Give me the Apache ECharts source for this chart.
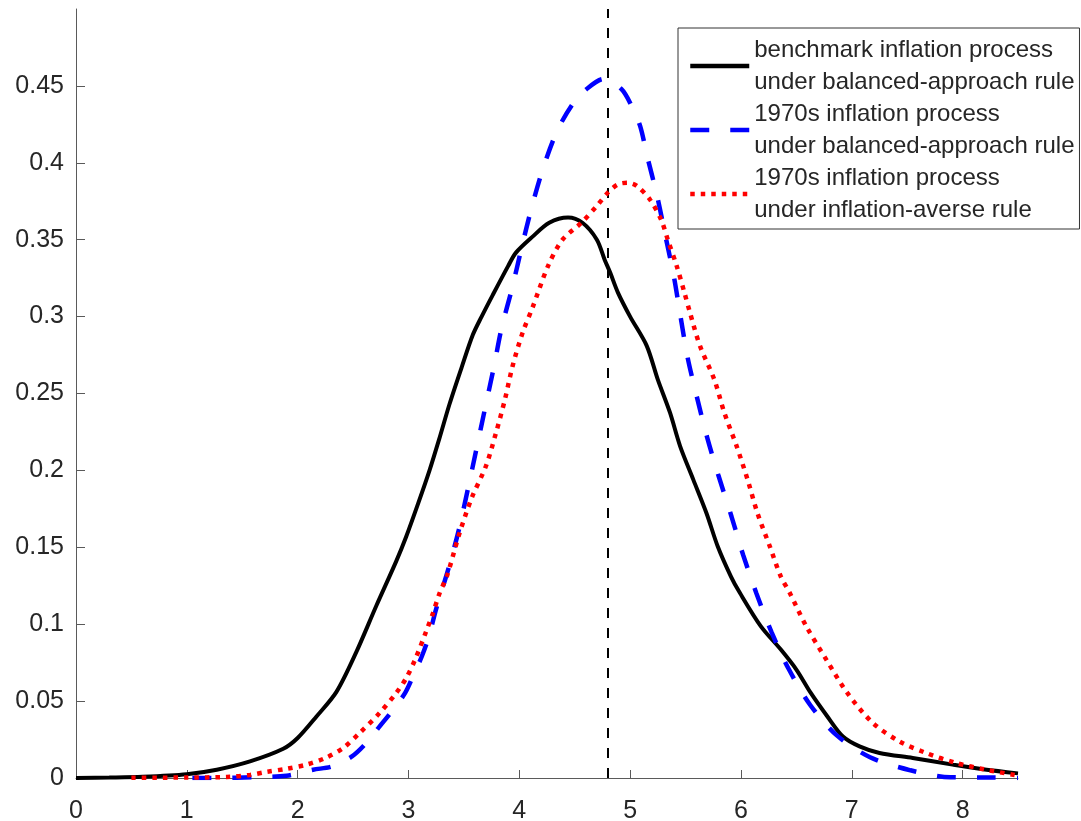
<!DOCTYPE html>
<html>
<head>
<meta charset="utf-8">
<script src="https://cdn.jsdelivr.net/npm/echarts@6/dist/echarts.min.js"></script>
<style>
  html, body { margin: 0; padding: 0; background: #fff; }
  #chartmain { width: 1081px; height: 821px; }
</style>
</head>
<body>
<div id="chartmain"></div>
<script>
  // density curves
  var benchX = [0, 0.3, 0.6, 1.0, 1.27, 1.57, 1.87, 2.0, 2.17, 2.35, 2.53, 2.71, 2.89, 2.98, 3.09, 3.19, 3.28, 3.37, 3.48, 3.58, 3.66, 3.76, 3.90, 3.97, 4.12, 4.27, 4.44, 4.57, 4.70, 4.77, 4.82, 4.89, 5.00, 5.15, 5.25, 5.36, 5.45, 5.57, 5.69, 5.79, 5.91, 5.99, 6.18, 6.36, 6.50, 6.63, 6.78, 6.92, 7.07, 7.25, 7.55, 7.91, 8.2, 8.5];
  var benchY = [0, 0.0003, 0.0008, 0.0025, 0.0054, 0.0108, 0.019, 0.026, 0.040, 0.056, 0.082, 0.112, 0.141, 0.157, 0.179, 0.200, 0.221, 0.243, 0.267, 0.288, 0.300, 0.314, 0.333, 0.3416, 0.352, 0.361, 0.3644, 0.361, 0.350, 0.337, 0.3286, 0.3156, 0.300, 0.281, 0.259, 0.2375, 0.216, 0.194, 0.172, 0.1507, 0.131, 0.1204, 0.0986, 0.0835, 0.0705, 0.0553, 0.040, 0.027, 0.0206, 0.0163, 0.013, 0.0087, 0.0055, 0.003];

  var balancedX = [1.05, 1.3, 1.6, 1.9, 2.14, 2.31, 2.49, 2.62, 2.74, 2.85, 2.97, 3.04, 3.12, 3.18, 3.25, 3.36, 3.455, 3.535, 3.615, 3.69, 3.77, 3.84, 3.935, 4.02, 4.11, 4.215, 4.34, 4.48, 4.60, 4.76, 4.92, 5.01, 5.09, 5.155, 5.245, 5.32, 5.395, 5.455, 5.52, 5.605, 5.695, 5.80, 5.915, 6.02, 6.14, 6.275, 6.43, 6.625, 6.865, 7.165, 7.53, 7.89, 8.27, 8.5];
  var balancedY = [0, 0, 0.0005, 0.0015, 0.0054, 0.0075, 0.014, 0.0228, 0.0336, 0.0433, 0.0553, 0.066, 0.079, 0.091, 0.110, 0.136, 0.1615, 0.1875, 0.2145, 0.240, 0.267, 0.2925, 0.3185, 0.3445, 0.3705, 0.3965, 0.4205, 0.438, 0.4475, 0.4545, 0.448, 0.4375, 0.424, 0.404, 0.378, 0.352, 0.326, 0.300, 0.273, 0.247, 0.2215, 0.196, 0.170, 0.145, 0.120, 0.095, 0.071, 0.0475, 0.0277, 0.0135, 0.005, 0.0005, 0.0003, 0];

  var averseX = [0.5, 1.0, 1.36, 1.57, 1.72, 1.90, 2.08, 2.25, 2.41, 2.56, 2.74, 2.89, 2.98, 3.06, 3.16, 3.22, 3.28, 3.35, 3.46, 3.57, 3.70, 3.79, 3.87, 3.94, 4.03, 4.12, 4.26, 4.39, 4.56, 4.70, 4.80, 4.89, 4.98, 5.06, 5.18, 5.28, 5.34, 5.42, 5.49, 5.54, 5.63, 5.76, 5.85, 5.96, 6.06, 6.15, 6.26, 6.36, 6.44, 6.59, 6.77, 6.96, 7.19, 7.43, 7.67, 7.94, 8.21, 8.47];
  var averseY = [0.0002, 0.0003, 0.0007, 0.002, 0.004, 0.006, 0.0087, 0.013, 0.0195, 0.0293, 0.0423, 0.0553, 0.065, 0.077, 0.0954, 0.107, 0.120, 0.132, 0.159, 0.182, 0.203, 0.2245, 0.246, 0.268, 0.2896, 0.306, 0.333, 0.350, 0.361, 0.372, 0.3807, 0.386, 0.387, 0.385, 0.376, 0.363, 0.350, 0.333, 0.3156, 0.3026, 0.281, 0.259, 0.2375, 0.216, 0.194, 0.172, 0.1507, 0.131, 0.1204, 0.0986, 0.077, 0.0553, 0.0358, 0.0238, 0.0163, 0.0098, 0.0054, 0.002];

  var refLineX = 4.8;
  var seriesNames = [
    'benchmark inflation process\nunder balanced-approach rule',
    '1970s inflation process\nunder balanced-approach rule',
    '1970s inflation process\nunder inflation-averse rule'
  ];

  function pairs(xs, ys) {
    var out = [];
    for (var i = 0; i < xs.length; i++) {
      out.push([xs[i], ys[i]]);
    }
    return out;
  }

  var txt = '#262626';
  var axisCol = '#5a5a5a';
  var font = 'Liberation Sans, Arial, sans-serif';

  var myChart = echarts.init(document.getElementById('chartmain'));
  var option = {
    animation: false,
    backgroundColor: '#fff',
    grid: { left: 76, right: 63, top: 9, bottom: 43, outerBoundsMode: 'none', containLabel: false },
    legend: {
      left: 678,
      top: 28,
      orient: 'vertical',
      itemWidth: 59,
      itemHeight: 14,
      itemGap: 0,
      padding: [6, 5, 3, 10],
      backgroundColor: '#fff',
      borderColor: '#333',
      borderWidth: 1,
      itemStyle: { opacity: 0, borderWidth: 0 },
      lineStyle: { width: 4.5 },
      textStyle: { color: txt, fontSize: 24, fontFamily: font, lineHeight: 32 },
      data: seriesNames
    },
    xAxis: {
      type: 'value',
      min: 0,
      max: 8.5,
      interval: 1,
      splitLine: { show: false },
      axisLine: { show: true, onZero: false, lineStyle: { color: axisCol, width: 1 } },
      axisTick: { show: true, inside: true, length: 8, lineStyle: { color: axisCol } },
      axisLabel: { color: txt, fontSize: 25, fontFamily: font, margin: 21, showMaxLabel: false }
    },
    yAxis: {
      type: 'value',
      min: 0,
      max: 0.5,
      interval: 0.05,
      splitLine: { show: false },
      axisLine: { show: true, onZero: false, lineStyle: { color: axisCol, width: 1 } },
      axisTick: { show: true, inside: true, length: 9, lineStyle: { color: axisCol } },
      axisLabel: {
        color: txt, fontSize: 25, fontFamily: font, margin: 12,
        padding: [6, 0, 0, 0],
        showMaxLabel: false,
        formatter: function (v) { return String(Math.round(v * 100) / 100); }
      }
    },
    series: [
      {
        name: seriesNames[0],
        type: 'line',
        data: pairs(benchX, benchY),
        showSymbol: false,
        symbol: 'none',
        smooth: 0.3,
        z: 3,
        lineStyle: { color: '#000', width: 4 },
        itemStyle: { color: '#000' },
        markLine: {
          silent: true,
          symbol: ['none', 'none'],
          label: { show: false },
          lineStyle: { color: '#000', width: 2, type: [10, 10] },
          data: [{ xAxis: refLineX }]
        }
      },
      {
        name: seriesNames[1],
        type: 'line',
        data: pairs(balancedX, balancedY),
        showSymbol: false,
        symbol: 'none',
        smooth: 0.3,
        z: 4,
        lineStyle: { color: '#0000ff', width: 4.5, type: [19, 21] },
        itemStyle: { color: '#0000ff' }
      },
      {
        name: seriesNames[2],
        type: 'line',
        data: pairs(averseX, averseY),
        showSymbol: false,
        symbol: 'none',
        smooth: 0.3,
        z: 5,
        lineStyle: { color: '#ff0000', width: 4.5, type: [4.5, 6] },
        itemStyle: { color: '#ff0000' }
      }
    ]
  };
  myChart.setOption(option);
</script>
</body>
</html>
